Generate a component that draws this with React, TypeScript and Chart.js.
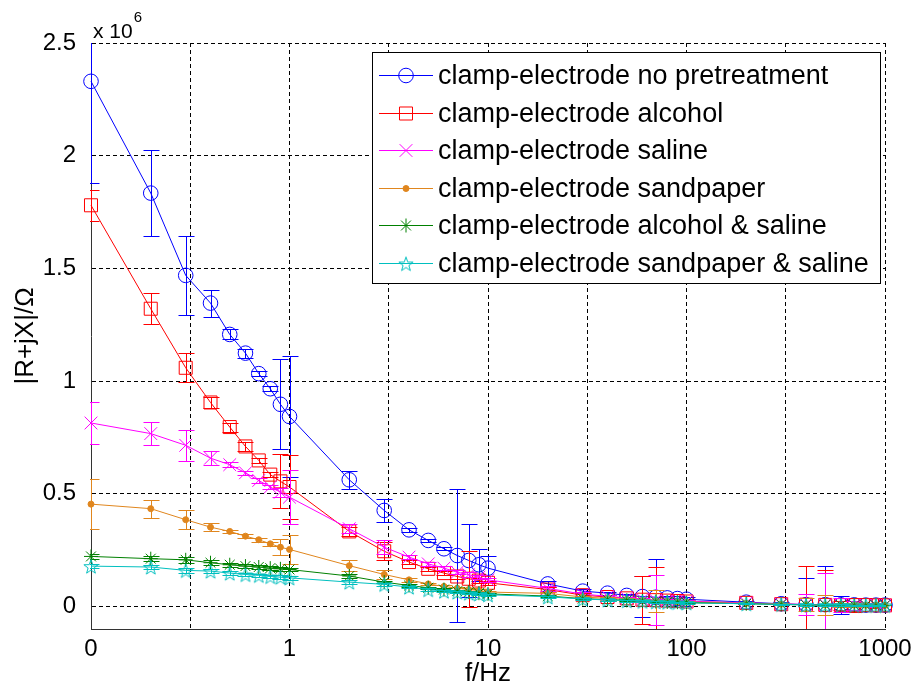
import React, { useEffect, useRef } from "react";
import { Chart, registerables } from "chart.js";

Chart.register(...registerables);

// ---- data (|R+jX| in units of 10^6 Ohm) ----
const freqHz = [
  0.1, 0.2, 0.3, 0.4, 0.5, 0.6, 0.7, 0.8, 0.9,
  1, 2, 3, 4, 5, 6, 7, 8, 9,
  10, 20, 30, 40, 50, 60, 70, 80, 90,
  100, 200, 300, 400, 500, 600, 700, 800, 900,
  1000,
];

const noPretreatment = [
  2.33, 1.834, 1.469, 1.346, 1.207, 1.124, 1.033, 0.966, 0.897,
  0.843, 0.562, 0.426, 0.34, 0.293, 0.256, 0.226, 0.204, 0.185,
  0.17, 0.1, 0.068, 0.059, 0.049, 0.044, 0.041, 0.038, 0.035,
  0.032, 0.019, 0.012, 0.008, 0.008, 0.007, 0.007, 0.006, 0.006,
  0.006,
];
const noPretreatmentErr = [
  0.45, 0.19, 0.175, 0.06, 0.022, 0.02, 0.01, 0.01, 0.2,
  0.27, 0.04, 0.052, 0.008, 0.006, 0.006, 0.296, 0.16, 0.07,
  0.055, 0.012, 0.01, 0.006, 0.006, 0.09, 0.168, 0.01, 0.01,
  0.008, 0.006, 0.006, 0.12, 0.17, 0.04, 0.03, 0.01, 0.01,
  0.01,
];

const alcohol = [
  1.78, 1.321, 1.059, 0.905, 0.796, 0.71, 0.648, 0.585, 0.555,
  0.53, 0.333, 0.245, 0.197, 0.167, 0.148, 0.133, 0.123, 0.115,
  0.105, 0.075, 0.05, 0.042, 0.036, 0.03, 0.028, 0.026, 0.024,
  0.022, 0.016, 0.01, 0.008, 0.007, 0.006, 0.006, 0.006, 0.005,
  0.005,
];
const alcoholErr = [
  0.07, 0.068, 0.064, 0.025, 0.02, 0.02, 0.012, 0.012, 0.12,
  0.14, 0.02, 0.04, 0.01, 0.008, 0.008, 0.01, 0.125, 0.01,
  0.01, 0.01, 0.01, 0.008, 0.006, 0.106, 0.145, 0.006, 0.006,
  0.005, 0.005, 0.005, 0.17, 0.155, 0.02, 0.03, 0.01, 0.01,
  0.01,
];

const saline = [
  0.814, 0.767, 0.715, 0.658, 0.629, 0.593, 0.559, 0.53, 0.507,
  0.485, 0.345, 0.263, 0.219, 0.189, 0.17, 0.152, 0.141, 0.13,
  0.118, 0.08, 0.055, 0.045, 0.038, 0.032, 0.028, 0.026, 0.024,
  0.022, 0.016, 0.011, 0.009, 0.008, 0.007, 0.006, 0.006, 0.006,
  0.005,
];
const salineErr = [
  0.095, 0.05, 0.07, 0.03, 0.01, 0.01, 0.01, 0.01, 0.02,
  0.12, 0.02, 0.03, 0.01, 0.008, 0.008, 0.01, 0.01, 0.01,
  0.01, 0.01, 0.01, 0.008, 0.006, 0.006, 0.11, 0.006, 0.006,
  0.005, 0.005, 0.005, 0.045, 0.14, 0.03, 0.02, 0.01, 0.01,
  0.01,
];

const sandpaper = [
  0.454, 0.434, 0.385, 0.352, 0.333, 0.312, 0.296, 0.278, 0.263,
  0.253, 0.181, 0.142, 0.118, 0.1, 0.089, 0.081, 0.075, 0.071,
  0.064, 0.058, 0.042, 0.036, 0.031, 0.027, 0.025, 0.023, 0.021,
  0.019, 0.014, 0.01, 0.008, 0.007, 0.006, 0.006, 0.005, 0.005,
  0.005,
];
const sandpaperErr = [
  0.11, 0.04, 0.043, 0.018, 0.008, 0.008, 0.008, 0.008, 0.035,
  0.065, 0.025, 0.018, 0.008, 0.006, 0.006, 0.006, 0.006, 0.006,
  0.006, 0.006, 0.005, 0.005, 0.005, 0.005, 0.05, 0.005, 0.005,
  0.004, 0.004, 0.004, 0.03, 0.045, 0.01, 0.01, 0.005, 0.005,
  0.005,
];

const alcoholSaline = [
  0.222, 0.212, 0.207, 0.194, 0.185, 0.179, 0.175, 0.17, 0.167,
  0.164, 0.135, 0.108, 0.093, 0.083, 0.075, 0.068, 0.064, 0.059,
  0.056, 0.046, 0.035, 0.03, 0.027, 0.024, 0.022, 0.02, 0.019,
  0.017, 0.012, 0.009, 0.007, 0.006, 0.006, 0.005, 0.005, 0.005,
  0.005,
];
const alcoholSalineErr = [
  0.012, 0.01, 0.012, 0.01, 0.008, 0.008, 0.008, 0.008, 0.008,
  0.008, 0.008, 0.006, 0.005, 0.005, 0.005, 0.005, 0.005, 0.005,
  0.005, 0.005, 0.004, 0.004, 0.004, 0.004, 0.004, 0.004, 0.004,
  0.003, 0.003, 0.003, 0.003, 0.003, 0.003, 0.003, 0.003, 0.003,
  0.003,
];

const sandpaperSaline = [
  0.179, 0.175, 0.16, 0.157, 0.148, 0.142, 0.138, 0.133, 0.13,
  0.127, 0.108, 0.098, 0.086, 0.075, 0.068, 0.064, 0.059, 0.056,
  0.052, 0.043, 0.033, 0.029, 0.026, 0.023, 0.021, 0.019, 0.018,
  0.016, 0.012, 0.009, 0.007, 0.006, 0.006, 0.005, 0.005, 0.005,
  0.005,
];
const sandpaperSalineErr = [
  0.01, 0.01, 0.01, 0.008, 0.008, 0.008, 0.008, 0.008, 0.008,
  0.008, 0.008, 0.006, 0.005, 0.005, 0.005, 0.005, 0.005, 0.005,
  0.005, 0.005, 0.004, 0.004, 0.004, 0.004, 0.004, 0.004, 0.004,
  0.003, 0.003, 0.003, 0.003, 0.003, 0.003, 0.003, 0.003, 0.003,
  0.003,
];

const seriesNames = [
  "clamp-electrode no pretreatment",
  "clamp-electrode alcohol",
  "clamp-electrode saline",
  "clamp-electrode sandpaper",
  "clamp-electrode alcohol & saline",
  "clamp-electrode sandpaper & saline",
];

const xTickValues = [0.1, 0.3162, 1, 3.162, 10, 31.62, 100, 316.2, 1000];
const xTickLabels = ["0", "", "1", "", "10", "", "100", "", "1000"];
const yTickValues = [0, 0.5, 1, 1.5, 2, 2.5];
const yMin = -0.1;
const yMax = 2.5;

const FONT = "'Liberation Sans', Arial, Helvetica, sans-serif";

function makePentagram(color: string, r: number) {
  const size = Math.ceil(2 * r + 3);
  const c = document.createElement("canvas");
  c.width = size;
  c.height = size;
  const g = c.getContext("2d")!;
  g.strokeStyle = color;
  g.lineWidth = 1;
  g.beginPath();
  for (let k = 0; k < 10; k++) {
    const rr = k % 2 === 0 ? r : r * 0.4;
    const a = -Math.PI / 2 + (k * Math.PI) / 5;
    const px = size / 2 + rr * Math.cos(a);
    const py = size / 2 + 1 + rr * Math.sin(a);
    if (k === 0) g.moveTo(px, py);
    else g.lineTo(px, py);
  }
  g.closePath();
  g.stroke();
  return c;
}

function drawMarker(ctx: CanvasRenderingContext2D, ds: any, x: number, y: number) {
  const style = ds.pointStyle;
  const r = ds.pointRadius;
  ctx.save();
  ctx.strokeStyle = ds.borderColor;
  ctx.fillStyle = ds.pointBackgroundColor;
  ctx.lineWidth = 1;
  ctx.beginPath();
  if (typeof style !== "string") {
    ctx.drawImage(style, x - style.width / 2, y - style.height / 2);
  } else if (style === "circle") {
    ctx.arc(x, y, r, 0, Math.PI * 2);
    if (ds.pointBackgroundColor !== "rgba(0,0,0,0)") ctx.fill();
    ctx.stroke();
  } else if (style === "rect") {
    const s = r * Math.SQRT1_2;
    ctx.rect(x - s, y - s, 2 * s, 2 * s);
    ctx.stroke();
  } else if (style === "crossRot") {
    const s = r * Math.SQRT1_2;
    ctx.moveTo(x - s, y - s);
    ctx.lineTo(x + s, y + s);
    ctx.moveTo(x - s, y + s);
    ctx.lineTo(x + s, y - s);
    ctx.stroke();
  } else if (style === "star") {
    const s = r * Math.SQRT1_2;
    ctx.moveTo(x - s, y - s);
    ctx.lineTo(x + s, y + s);
    ctx.moveTo(x - s, y + s);
    ctx.lineTo(x + s, y - s);
    ctx.moveTo(x, y - r);
    ctx.lineTo(x, y + r);
    ctx.moveTo(x - r, y);
    ctx.lineTo(x + r, y);
    ctx.stroke();
  }
  ctx.restore();
}

const errorBarPlugin = {
  id: "errorBars",
  afterDatasetDraw(chart: any, args: any) {
    const ds = chart.data.datasets[args.index];
    const errs: number[] = ds.errors;
    if (!errs) return;
    const xs = chart.scales.x;
    const ys = chart.scales.y;
    const ca = chart.chartArea;
    const ctx: CanvasRenderingContext2D = chart.ctx;
    ctx.save();
    ctx.beginPath();
    ctx.rect(ca.left - 1, ca.top, ca.right - ca.left + 2, ca.bottom - ca.top);
    ctx.clip();
    ctx.strokeStyle = ds.borderColor;
    ctx.lineWidth = 1;
    const cap = 8;
    ds.data.forEach((pt: any, i: number) => {
      const x = Math.round(xs.getPixelForValue(pt.x)) + 0.5;
      const yt = Math.round(ys.getPixelForValue(pt.y + errs[i])) + 0.5;
      const yb = Math.round(ys.getPixelForValue(pt.y - errs[i])) + 0.5;
      ctx.beginPath();
      ctx.moveTo(x, yt);
      ctx.lineTo(x, yb);
      ctx.moveTo(x - cap, yt);
      ctx.lineTo(x + cap, yt);
      ctx.moveTo(x - cap, yb);
      ctx.lineTo(x + cap, yb);
      ctx.stroke();
    });
    ctx.restore();
  },
};

const annotationsPlugin = {
  id: "matlabExtras",
  afterDraw(chart: any) {
    const ctx: CanvasRenderingContext2D = chart.ctx;
    const ca = chart.chartArea;
    ctx.save();
    // exponent label
    ctx.fillStyle = "#000";
    ctx.textBaseline = "alphabetic";
    ctx.textAlign = "left";
    ctx.font = `21px ${FONT}`;
    ctx.fillText("x 10", ca.left + 2, ca.top - 5);
    const w = ctx.measureText("x 10").width;
    ctx.font = `15px ${FONT}`;
    ctx.fillText("6", ca.left + 2 + w + 1, ca.top - 21);

    // legend
    const box = { left: 372, top: 52, right: 880, bottom: 283 };
    ctx.fillStyle = "#fff";
    ctx.fillRect(box.left, box.top, box.right - box.left, box.bottom - box.top);
    ctx.strokeStyle = "#000";
    ctx.lineWidth = 1;
    ctx.strokeRect(box.left + 0.5, box.top + 0.5, box.right - box.left, box.bottom - box.top);
    const rowH = 37.6;
    chart.data.datasets.forEach((ds: any, i: number) => {
      const y = Math.round(box.top + 23 + i * rowH) + 0.5;
      ctx.strokeStyle = ds.borderColor;
      ctx.lineWidth = 1;
      ctx.beginPath();
      ctx.moveTo(379, y);
      ctx.lineTo(433, y);
      ctx.stroke();
      drawMarker(ctx, ds, 406, y);
      ctx.fillStyle = "#000";
      ctx.font = `27px ${FONT}`;
      ctx.textAlign = "left";
      ctx.textBaseline = "middle";
      ctx.fillText(ds.label, 438, y + 1);
    });
    ctx.restore();
  },
};

export default function App() {
  const canvasRef = useRef<HTMLCanvasElement | null>(null);

  useEffect(() => {
    const canvas = canvasRef.current;
    if (!canvas) return;

    const pentagram = makePentagram("#00BFBF", 7.5);

    const seriesValues = [noPretreatment, alcohol, saline, sandpaper, alcoholSaline, sandpaperSaline];
    const seriesErrors = [noPretreatmentErr, alcoholErr, salineErr, sandpaperErr, alcoholSalineErr, sandpaperSalineErr];
    const colors = ["#0000FF", "#FF0000", "#FF00FF", "#E0861E", "#008000", "#00BFBF"];
    const styles: any[] = ["circle", "rect", "crossRot", "circle", "star", pentagram];
    const radii = [7.3, 9.2, 9, 3, 7, 7.5];
    const fills = ["rgba(0,0,0,0)", "rgba(0,0,0,0)", "rgba(0,0,0,0)", "#E0861E", "rgba(0,0,0,0)", "rgba(0,0,0,0)"];

    const datasets = seriesNames.map((name, s) => ({
      label: name,
      data: freqHz.map((f, i) => ({ x: f, y: seriesValues[s][i] })),
      errors: seriesErrors[s],
      borderColor: colors[s],
      backgroundColor: colors[s],
      borderWidth: 1,
      pointStyle: styles[s],
      pointRadius: radii[s],
      pointBorderWidth: 1,
      pointBorderColor: colors[s],
      pointBackgroundColor: fills[s],
      pointHoverRadius: radii[s],
      tension: 0,
      clip: false as any,
      order: seriesNames.length - s,
    }));

    const chart = new Chart(canvas, {
      type: "line",
      data: { datasets: datasets as any },
      options: {
        responsive: false,
        animation: false,
        devicePixelRatio: 1,
        events: [],
        layout: { padding: { left: 0, top: 43, right: 34, bottom: 0 } },
        plugins: {
          legend: { display: false },
          tooltip: { enabled: false },
        },
        scales: {
          x: {
            type: "logarithmic",
            min: 0.1,
            max: 1000,
            afterBuildTicks: (scale: any) => {
              scale.ticks = xTickValues.map((v) => ({ value: v }));
            },
            afterFit: (scale: any) => {
              scale.height = 60;
            },
            ticks: {
              autoSkip: false,
              maxRotation: 0,
              padding: 6,
              color: "#000",
              font: { family: FONT, size: 24 },
              callback: (_v: any, i: number) => xTickLabels[i],
            },
            grid: { color: "#000", lineWidth: 1, drawTicks: false },
            border: { display: true, color: "#333", width: 1, dash: [4, 3] },
            title: {
              display: true,
              text: "f/Hz",
              color: "#000",
              font: { family: FONT, size: 26 },
              padding: { top: 0, bottom: 0 },
            },
          },
          y: {
            type: "linear",
            min: yMin,
            max: yMax,
            afterBuildTicks: (scale: any) => {
              scale.ticks = yTickValues.map((v) => ({ value: v }));
            },
            afterFit: (scale: any) => {
              scale.width = 91;
            },
            ticks: {
              padding: 15,
              color: "#000",
              font: { family: FONT, size: 24 },
              callback: (v: any) => String(v),
            },
            grid: { color: "#000", lineWidth: 1, drawTicks: false },
            border: { display: true, color: "#333", width: 1, dash: [4, 3] },
            title: {
              display: true,
              text: "|R+jX|/Ω",
              color: "#000",
              font: { family: FONT, size: 26 },
              padding: { top: 10, bottom: 0 },
            },
          },
        },
      },
      plugins: [errorBarPlugin, annotationsPlugin],
    } as any);

    return () => chart.destroy();
  }, []);

  return (
    <div style={{ position: "absolute", left: 0, top: 0, width: 919, height: 689, background: "#fff" }}>
      <canvas ref={canvasRef} width={919} height={689} style={{ display: "block", width: 919, height: 689 }} />
    </div>
  );
}
